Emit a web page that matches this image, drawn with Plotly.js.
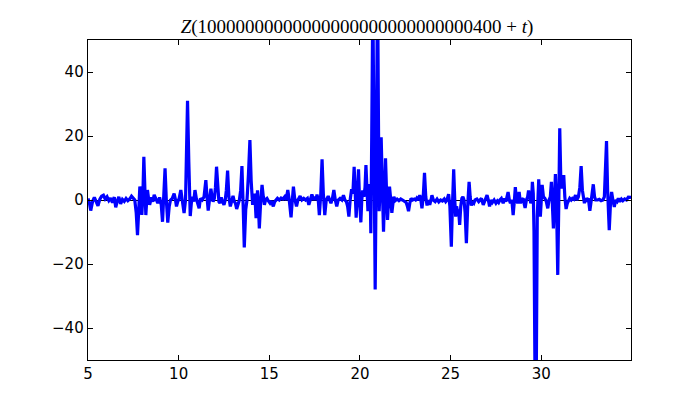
<!DOCTYPE html>
<html>
<head>
<meta charset="utf-8">
<script src="https://cdn.plot.ly/plotly-3.0.1.min.js"></script>
<style>html,body{margin:0;padding:0;background:#fff;}#chart{width:700px;height:400px;}</style>
</head>
<body>
<div id="chart"></div>
<script>
var tValues = [5.00,5.08,5.15,5.25,5.35,5.45,5.55,5.65,5.75,5.85,5.95,6.05,6.15,6.25,6.35,6.45,6.53,6.62,6.70,6.80,6.90,7.00,7.10,7.20,7.30,7.40,7.50,7.58,7.66,7.73,7.80,7.86,7.92,7.97,8.03,8.08,8.14,8.19,8.24,8.28,8.34,8.40,8.50,8.58,8.65,8.75,8.85,8.95,9.04,9.11,9.18,9.25,9.32,9.40,9.48,9.55,9.65,9.75,9.82,9.88,9.95,10.03,10.12,10.20,10.30,10.38,10.43,10.49,10.56,10.64,10.70,10.76,10.83,10.90,10.98,11.05,11.13,11.20,11.30,11.40,11.45,11.50,11.57,11.63,11.70,11.78,11.84,11.90,11.97,12.03,12.09,12.16,12.22,12.28,12.35,12.42,12.50,12.57,12.63,12.70,12.77,12.85,12.92,13.00,13.07,13.13,13.20,13.28,13.35,13.42,13.49,13.56,13.62,13.70,13.77,13.85,13.93,14.00,14.08,14.15,14.20,14.27,14.32,14.35,14.40,14.45,14.52,14.60,14.67,14.73,14.80,14.87,14.95,15.04,15.12,15.22,15.30,15.38,15.45,15.55,15.65,15.75,15.85,15.93,16.02,16.10,16.20,16.27,16.33,16.40,16.50,16.58,16.70,16.80,16.90,17.00,17.10,17.18,17.27,17.35,17.45,17.52,17.58,17.63,17.70,17.76,17.84,17.91,17.98,18.06,18.14,18.25,18.33,18.40,18.48,18.56,18.64,18.72,18.80,18.90,19.00,19.09,19.17,19.25,19.32,19.39,19.46,19.54,19.61,19.68,19.74,19.79,19.86,19.92,19.98,20.05,20.10,20.15,20.22,20.28,20.33,20.39,20.44,20.49,20.53,20.57,20.60,20.65,20.71,20.77,20.84,20.90,20.97,21.02,21.06,21.12,21.17,21.24,21.30,21.36,21.41,21.47,21.52,21.58,21.63,21.70,21.76,21.82,21.87,21.95,22.05,22.15,22.25,22.35,22.45,22.55,22.62,22.68,22.75,22.82,22.90,23.00,23.07,23.14,23.22,23.30,23.36,23.42,23.49,23.56,23.63,23.70,23.77,23.85,23.92,23.97,24.05,24.15,24.25,24.35,24.45,24.55,24.65,24.73,24.80,24.89,24.96,25.04,25.10,25.17,25.23,25.28,25.33,25.38,25.44,25.50,25.56,25.62,25.68,25.74,25.80,25.87,25.95,26.02,26.08,26.14,26.20,26.28,26.35,26.45,26.55,26.62,26.70,26.80,26.90,27.01,27.08,27.15,27.22,27.30,27.40,27.50,27.58,27.65,27.72,27.80,27.90,27.98,28.05,28.10,28.17,28.24,28.30,28.38,28.45,28.52,28.57,28.63,28.70,28.78,28.85,28.92,29.00,29.05,29.11,29.18,29.25,29.30,29.36,29.42,29.47,29.51,29.56,29.60,29.66,29.72,29.78,29.86,29.95,30.05,30.12,30.20,30.28,30.36,30.43,30.50,30.56,30.61,30.67,30.73,30.78,30.84,30.91,30.97,31.02,31.08,31.13,31.19,31.24,31.30,31.37,31.44,31.50,31.57,31.65,31.72,31.80,31.89,31.96,32.05,32.13,32.20,32.27,32.34,32.38,32.45,32.52,32.60,32.68,32.76,32.81,32.87,32.94,33.00,33.10,33.20,33.30,33.40,33.48,33.53,33.60,33.66,33.75,33.82,33.88,33.95,34.03,34.10,34.18,34.25,34.33,34.42,34.50,34.60,34.70,34.80,34.95];
var zValues = [0.5,-1.0,-3.3,-0.5,0.8,-0.3,-1.8,0.2,1.2,1.5,0.3,1.0,-0.2,0.6,-0.8,0.9,-2.3,-0.3,1.0,-1.2,0.2,-0.4,0.5,-0.2,0.3,1.2,0.5,0,-4,-11,-3,4.2,2,-4.7,2,13.5,3,-4.7,0,3.1,0.5,-1.5,0.8,-0.5,1.6,0.2,-1,0.8,-1.5,-6.8,0,9.9,0,-7.1,-2,0,0.5,2,0.2,-2,-0.5,0.5,3.1,0.5,-4.1,0,15,31,12,-5,-1,1,-0.5,3.1,0.3,-1,-2.6,0.5,0,1,3,6.2,0.5,-3.3,0,3.5,1,-0.5,0.5,4,10.4,2,-0.5,-1,0.8,-0.5,-1.5,0,3,9.2,1,-2,0,1.3,-0.5,-1,-2.8,-1,0,3,10.6,-2,-14.8,-3,0,8,18.75,6,-1.5,0.5,2,-5.7,0,3,-2,-8.9,-1,4.7,1,-1.5,0.2,0.5,-0.3,-1,-0.3,-2,-0.5,0.3,0.5,0,0.6,0.3,1,0,3.1,0,-5.4,0,4.2,0.5,-2,0,1.2,0,0.5,0,0.5,-1.5,0,1.7,0,1,0,1.7,0,-4.7,2,12.7,2,-4.7,0,1.2,0,-1,0.5,3.1,0,-2,0,0.5,0,1.5,0,-0.5,-2,-5.2,0,3.4,2,10.4,2,-5.5,2,9.6,0,-7,0,3,1,4,10.9,2,-3.5,1,5,1,-10.4,20,65,20,-28,10,70,25,-3.5,5,19.6,3,-9.9,2,13,2,-6.2,0,4.2,0,-4,-1,1,-0.2,0.3,-0.2,0.3,0,-0.5,-0.8,-2,-3.5,-1,0.5,0,0.3,0,0.6,0,1.5,0,-2.6,1,8.5,1,-1.7,0,-1.5,0,1.5,0,-0.5,0.3,-0.6,0,-0.3,0.3,-0.5,0,1.8,-2,-14.6,-2,9.6,0,-5.2,-2,-3.5,-3,-7.8,-2,0.5,1,0,-4,-13.5,-1,5.7,1,-1.7,-0.5,-1,0,0.3,-0.5,0,0.5,-1.5,0,1.5,0,-2,0,-0.8,0,-1,-0.3,-0.8,0,0.5,-1,0.5,-0.5,0.8,2.5,0,-1,0,-4.7,0,4,0,-1,2.5,-1,0,0.5,-1,-2.5,0,1,3,0,-1,0,5.7,2,-10,-60,-60,-5,6.5,-5.2,4.7,1,0.5,-0.5,-2.6,0,1,5.7,0,-8.9,0,8.1,0,-23.4,0,22.4,6,4,4,7.8,1,-2.8,-1,0,0.5,0,0.5,0.2,1.5,0,1,4,10.6,3,0,-1,0.5,0,0.5,-3.4,0,2,4.9,1,0,0,0.2,-0.2,0,1,8,18.4,3,-9.4,-1,2.5,0,-2.2,0,-0.5,0.5,-0.5,0.3,-0.2,0.3,0,0.9,0.8];
var xTicks = [5,10,15,20,25,30];
var yTicks = [-40,-20,0,20,40];
var titleText = '<i>Z</i>(10000000000000000000000000000400 + <i>t</i>)';

var trace = {x: tValues, y: zValues, type: 'scatter', mode: 'lines',
  line: {color: '#0000ff', width: 3.2}, hoverinfo: 'none'};

var axisCommon = {showgrid: false, showline: true, linecolor: '#000', linewidth: 1.3,
  mirror: 'ticks', ticks: 'inside', ticklen: 5, tickcolor: '#000', tickwidth: 1,
  tickfont: {family: 'DejaVu Sans', size: 15, color: '#000'}};

var layout = {
  width: 700, height: 400,
  margin: {l: 88, r: 69, t: 40, b: 40},
  paper_bgcolor: '#fff', plot_bgcolor: '#fff',
  showlegend: false,
  title: {text: titleText, font: {family: 'Liberation Serif', size: 19, color: '#000'},
          x: 0.51, xanchor: 'center', y: 0.935, yanchor: 'middle'},
  xaxis: Object.assign({}, axisCommon, {range: [5, 34.95], tickmode: 'array', tickvals: xTicks,
    ticktext: xTicks.map(String), zeroline: false}),
  yaxis: Object.assign({}, axisCommon, {range: [-50, 50], tickmode: 'array', tickvals: yTicks,
    ticktext: yTicks.map(function(v){return v < 0 ? '\u2212' + Math.abs(v) : String(v);}),
    zeroline: true, zerolinecolor: '#000', zerolinewidth: 1})
};

Plotly.newPlot('chart', [trace], layout, {displayModeBar: false, staticPlot: true});
</script>
</body>
</html>
